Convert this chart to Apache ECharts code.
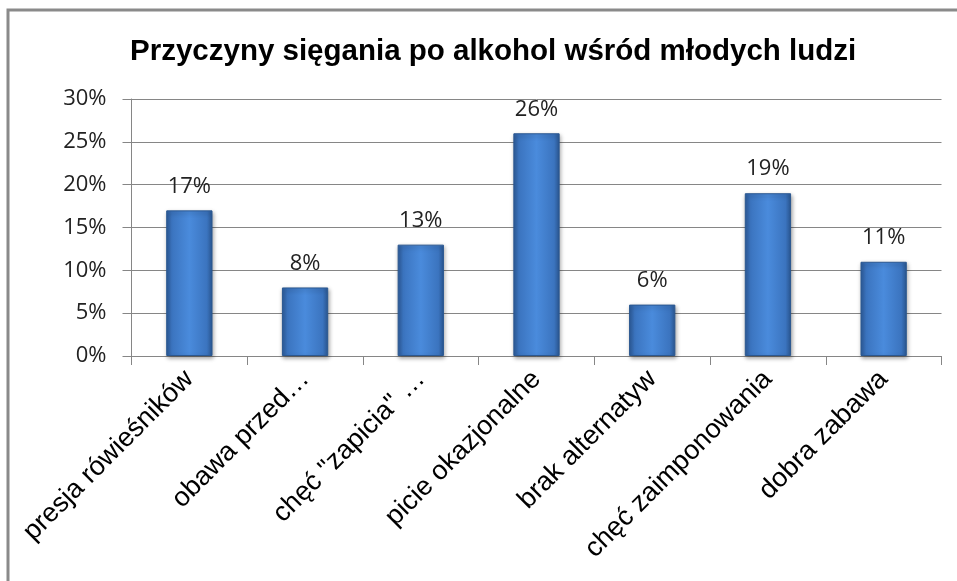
<!DOCTYPE html>
<html>
<head>
<meta charset="utf-8">
<script src="https://cdn.jsdelivr.net/npm/echarts@6/dist/echarts.min.js"></script>
<style>
html,body{margin:0;padding:0;background:#fff;}
#chart{width:957px;height:581px;}
</style>
</head>
<body>
<div id="chart"></div>
<script>
const titleText = 'Przyczyny sięgania po alkohol wśród młodych ludzi';
const categories = ['presja rówieśników', 'obawa przed…', 'chęć "zapicia" …', 'picie okazjonalne', 'brak alternatyw', 'chęć zaimponowania', 'dobra zabawa'];
const values = [17, 8, 13, 26, 6, 19, 11];
const yTicks = [0, 5, 10, 15, 20, 25, 30];

const chart = echarts.init(document.getElementById('chart'));
chart.setOption({
  animation: false,
  backgroundColor: '#fff',
  graphic: [{
    type: 'rect', shape: {x: 8, y: 10, width: 1000, height: 1000},
    style: {fill: 'none', stroke: '#8a8a8a', lineWidth: 3}, silent: true, z: -1
  }],
  title: {
    text: titleText, left: 125, top: 32,
    textStyle: {fontFamily: 'Liberation Sans', fontWeight: 'bold', fontSize: 29.5, color: '#000'}
  },
  grid: {left: 131.5, right: 15.5, top: 99, bottom: 225},
  xAxis: {
    type: 'category', data: categories,
    axisLine: {lineStyle: {color: '#868686', width: 1}},
    axisTick: {show: true, length: 9, lineStyle: {color: '#868686'}},
    axisLabel: {rotate: 45, interval: 0, margin: 19, fontFamily: 'Liberation Sans', fontSize: 27, color: '#000'}
  },
  yAxis: {
    type: 'value', min: yTicks[0], max: yTicks[yTicks.length - 1], interval: 5,
    axisLine: {show: true, lineStyle: {color: '#868686', width: 1}},
    axisTick: {show: true, length: 9, lineStyle: {color: '#868686'}},
    splitLine: {lineStyle: {color: '#868686', width: 1}},
    axisLabel: {formatter: '{value}%', margin: 25, fontFamily: 'Open Sans', fontSize: 22, color: '#222'}
  },
  series: [{
    type: 'bar', data: values, barWidth: '40%',
    itemStyle: {
      borderColor: '#2b5891', borderWidth: 1,
      shadowColor: 'rgba(0,0,0,0.35)', shadowBlur: 4, shadowOffsetX: 1, shadowOffsetY: 2,
      color: new echarts.graphic.LinearGradient(0, 0, 1, 0, [
        {offset: 0, color: '#2d5c9b'},
        {offset: 0.12, color: '#3b74bf'},
        {offset: 0.5, color: '#4a8bdc'},
        {offset: 0.88, color: '#3b74bf'},
        {offset: 1, color: '#2b5893'}
      ])
    },
    label: {
      show: true, position: 'top', distance: 13, formatter: '{c}%',
      fontFamily: 'Open Sans', fontSize: 22, color: '#222'
    }
  }]
});
</script>
</body>
</html>
